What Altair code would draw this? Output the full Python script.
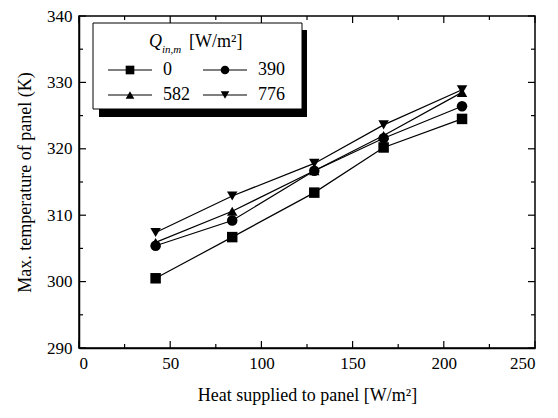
import altair as alt
import pandas as pd

# ---- data ----
heat = [42, 84, 129, 167, 210]
series_names = ["0", "390", "582", "776"]
q0 = [300.5, 306.7, 313.4, 320.2, 324.5]
q390 = [305.4, 309.2, 316.7, 321.6, 326.4]
q582 = [305.9, 310.6, 316.7, 322.0, 328.5]
q776 = [307.4, 312.9, 317.8, 323.6, 328.9]
shapes = ["square", "circle", "triangle-up", "triangle-down"]

x_major = [0, 50, 100, 150, 200, 250]
x_minor = [25, 75, 125, 175, 225]
y_major = [290, 300, 310, 320, 330, 340]
y_minor = [295, 305, 315, 325, 335]

W, H = 456, 332
FONT = "Liberation Serif, Times New Roman, DejaVu Serif, serif"

rows = []
for name, vals in zip(series_names, [q0, q390, q582, q776]):
    for xv, yv in zip(heat, vals):
        rows.append({"heat": xv, "temp": yv, "Q": name})
df = pd.DataFrame(rows)

xscale = alt.Scale(domain=[0, 250], nice=False, zero=False)
yscale = alt.Scale(domain=[290, 340], nice=False, zero=False)
shape_scale = alt.Scale(domain=series_names, range=shapes)

base = alt.Chart(df).encode(
    x=alt.X("heat:Q", scale=xscale,
            axis=alt.Axis(title="Heat supplied to panel [W/m²]", values=x_major,
                          ticks=False, tickSize=0, grid=False, labelPadding=7,
                          titlePadding=15, format="d")),
    y=alt.Y("temp:Q", scale=yscale,
            axis=alt.Axis(title="Max. temperature of panel (K)", values=y_major,
                          ticks=False, tickSize=0, grid=False, labelPadding=7,
                          titlePadding=12, format="d")),
)

lines = base.mark_line(color="black", strokeWidth=1.2).encode(detail="Q:N")
points = base.mark_point(filled=True, color="black", opacity=1, size=110).encode(
    shape=alt.Shape("Q:N", scale=shape_scale, legend=None)
)


def tick_layer(vals, axis, length):
    d = pd.DataFrame({"v": vals})
    c = alt.Chart(d).mark_rule(color="black", strokeWidth=1.2)
    layers = []
    if axis == "x":
        layers.append(c.encode(x=alt.X("v:Q", scale=xscale), y=alt.value(H), y2=alt.value(H - length)))
        layers.append(c.encode(x=alt.X("v:Q", scale=xscale), y=alt.value(0), y2=alt.value(length)))
    else:
        layers.append(c.encode(y=alt.Y("v:Q", scale=yscale), x=alt.value(0), x2=alt.value(length)))
        layers.append(c.encode(y=alt.Y("v:Q", scale=yscale), x=alt.value(W), x2=alt.value(W - length)))
    return layers


ticks = (tick_layer(x_major, "x", 7) + tick_layer(x_minor, "x", 4)
         + tick_layer(y_major, "y", 7) + tick_layer(y_minor, "y", 4))

# ---- manual legend ----
one = pd.DataFrame({"a": [0]})
shadow = alt.Chart(one).mark_rect(color="black").encode(
    x=alt.value(20), x2=alt.value(228), y=alt.value(14), y2=alt.value(101))
box = alt.Chart(one).mark_rect(fill="white", stroke="black", strokeWidth=1).encode(
    x=alt.value(14), x2=alt.value(223), y=alt.value(7), y2=alt.value(93))

title_q = alt.Chart(one).mark_text(text="Q", font=FONT, fontSize=18, fontStyle="italic",
                                   align="left", baseline="alphabetic", color="black").encode(
    x=alt.value(70), y=alt.value(31))
title_sub = alt.Chart(one).mark_text(text="in,m", font=FONT, fontSize=11, fontStyle="italic",
                                     align="left", baseline="alphabetic", color="black").encode(
    x=alt.value(83), y=alt.value(37))
title_unit = alt.Chart(one).mark_text(text="[W/m²]", font=FONT, fontSize=18,
                                      align="left", baseline="alphabetic", color="black").encode(
    x=alt.value(110), y=alt.value(31))

leg_rows = []
for i, name in enumerate(series_names):
    col, row = i % 2, i // 2
    x0 = 29 + col * 95
    leg_rows.append({"Q": name, "lx1": x0, "lx2": x0 + 44, "mx": x0 + 22,
                     "tx": x0 + 55, "ly": 54 + row * 25})
leg = pd.DataFrame(leg_rows)

leg_lines = alt.Chart(leg).mark_rule(color="black", strokeWidth=1.2).encode(
    x=alt.X("lx1:Q", scale=None), x2="lx2:Q", y=alt.Y("ly:Q", scale=None))
leg_pts = alt.Chart(leg).mark_point(filled=True, color="black", opacity=1, size=75).encode(
    x=alt.X("mx:Q", scale=None), y=alt.Y("ly:Q", scale=None),
    shape=alt.Shape("Q:N", scale=shape_scale, legend=None))
leg_txt = alt.Chart(leg).mark_text(font=FONT, fontSize=18, align="left", baseline="middle",
                                   color="black").encode(
    x=alt.X("tx:Q", scale=None), y=alt.Y("ly:Q", scale=None), text="Q:N")

chart = alt.layer(
    *ticks, lines, points, shadow, box, title_q, title_sub, title_unit,
    leg_lines, leg_pts, leg_txt
).resolve_scale(shape="independent").properties(
    width=W, height=H,
    autosize=alt.AutoSizeParams(type="none"),
    padding={"left": 71, "top": 8, "right": 15, "bottom": 62},
).configure_view(
    stroke="black", strokeWidth=1.5
).configure_axis(
    domainColor="black", domainWidth=1.5, labelColor="black", titleColor="black",
    labelFont=FONT, titleFont=FONT, labelFontSize=17, titleFontSize=18,
    titleFontWeight="normal"
)

chart.save("out.html", embed_options={"renderer": "svg", "actions": False})
